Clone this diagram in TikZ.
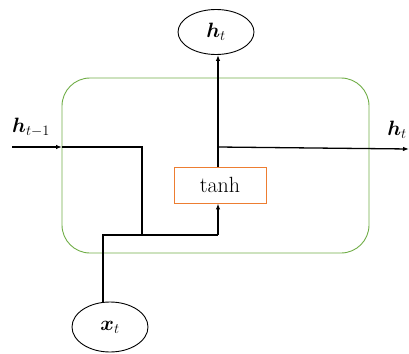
\documentclass[tikz,border=0pt]{standalone}
\usepackage{amsmath,bm}
\usetikzlibrary{arrows.meta,shapes.geometric}
\begin{document}
\begin{tikzpicture}[x=1pt,y=-1pt,
  wire/.style={line width=1.3pt,black},
  arr/.style={wire,-{Latex[length=6pt,width=4.5pt]}},
  elli/.style={draw,ellipse,line width=0.9pt,minimum width=76pt,minimum height=45pt,inner sep=0pt,font=\fontsize{22}{26}\selectfont},
  lab/.style={font=\fontsize{22}{26}\selectfont,inner sep=0pt}]
\useasboundingbox (0,0) rectangle (409,353);
\draw[draw={rgb,255:red,112;green,173;blue,71},line width=0.9pt,rounded corners=28pt] (62,78) rectangle (369,253);
\node[elli] (ht) at (216,32) {$\boldsymbol{h}_t$};
\node[elli,minimum height=50pt] (xt) at (110,327) {$\boldsymbol{x}_t$};
\node[draw={rgb,255:red,237;green,125;blue,49},line width=0.9pt,minimum width=92pt,minimum height=36pt,inner sep=0pt,font=\fontsize{22}{26}\selectfont] (tanh) at (220,185) {tanh};
\node[lab] (hprev) at (31,127) {$\boldsymbol{h}_{t-1}$};
\node[lab] (hout) at (397,130) {$\boldsymbol{h}_t$};
\coordinate (inL) at (12,147);
\coordinate (inB) at (62,147);
\coordinate (c1) at (142,147);
\coordinate (c2) at (142,235);
\coordinate (x1) at (103,235);
\coordinate (x2) at (218,235);
\coordinate (br) at (218,147);
\coordinate (outR) at (409,149);
\draw[arr] (inL) -- (inB);
\draw[wire] (inB) -- (c1) -- (c2);
\draw[wire] (xt.north -| x1) -- (x1) -- (x2);
\draw[arr] (x2) -- (tanh.south -| x2);
\draw[arr] (tanh.north -| br) -- (ht.south -| br);
\draw[arr] (br) -- (outR);
\end{tikzpicture}
\end{document}
